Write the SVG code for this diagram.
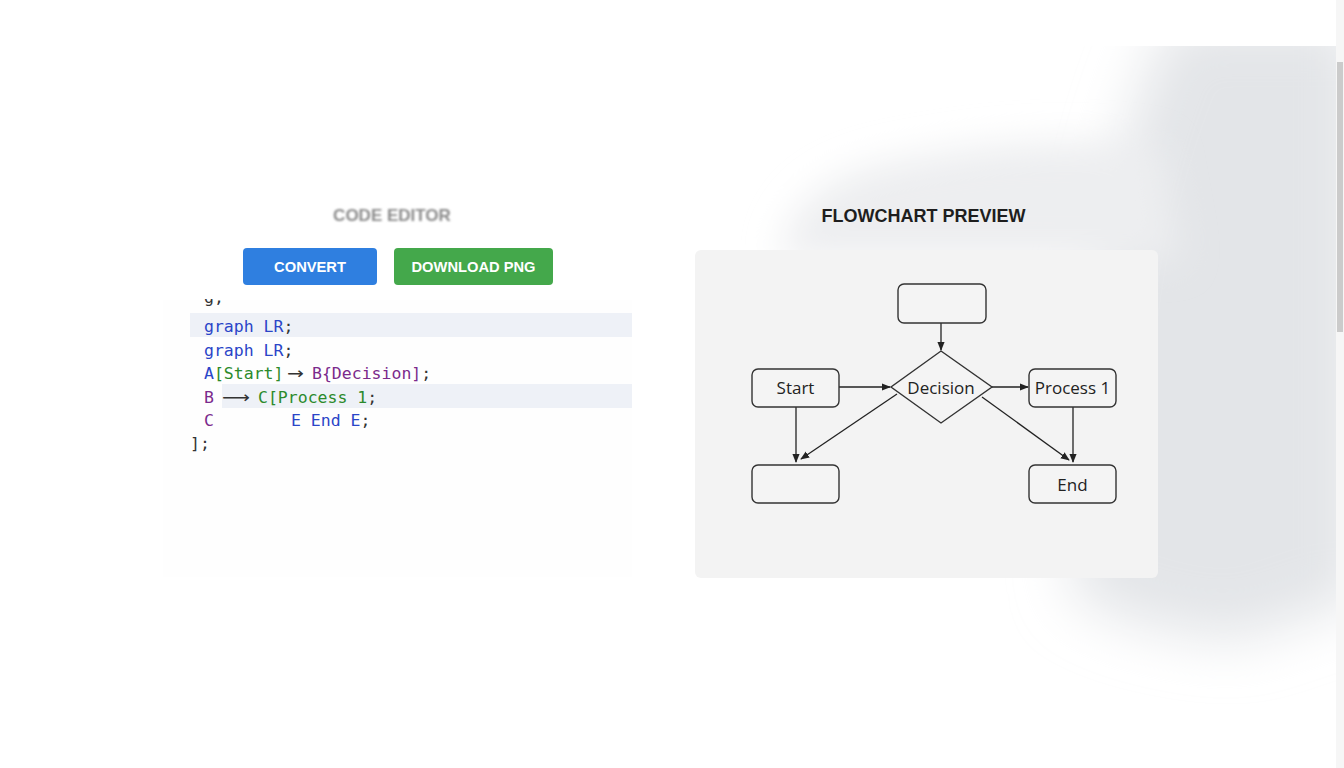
<svg xmlns="http://www.w3.org/2000/svg" width="1344" height="768" viewBox="0 0 1344 768">
<defs>
<filter id="blur40" x="-50%" y="-50%" width="200%" height="200%"><feGaussianBlur stdDeviation="28"/></filter>
<filter id="blur20" x="-50%" y="-50%" width="200%" height="200%"><feGaussianBlur stdDeviation="18"/></filter>
<filter id="soft" x="-10%" y="-10%" width="120%" height="120%"><feGaussianBlur stdDeviation="0.9"/></filter>
<clipPath id="topclip"><rect x="160" y="299" width="480" height="20"/></clipPath>
<clipPath id="pageclip"><rect x="0" y="46" width="1336" height="722"/></clipPath>
<marker id="arr" viewBox="0 0 10 10" refX="9" refY="5" markerWidth="9" markerHeight="9" markerUnits="userSpaceOnUse" orient="auto"><path d="M0,1 L10,5 L0,9 Z" fill="#222"/></marker>
</defs>
<style>
.code{font-family:"DejaVu Sans Mono","Liberation Mono",monospace;font-size:16.5px}
.bl{fill:#2a45c8}.gr{fill:#2b8a2b}.pu{fill:#7b2a8c}.dk{fill:#333}
.node{fill:#f4f4f4;stroke:#333;stroke-width:1.4}
.lbl{font-family:"Open Sans","Noto Sans",sans-serif;font-size:17px;fill:#222;text-anchor:middle}
.edge{stroke:#222;stroke-width:1.3;fill:none;marker-end:url(#arr)}
.btn{font-family:"Liberation Sans",Arial,sans-serif;font-size:14.7px;font-weight:bold;fill:#fff;text-anchor:middle}
</style>
<rect width="1344" height="768" fill="#ffffff"/>
<!-- soft gray background haze on the right -->
<g id="haze">
<g clip-path="url(#pageclip)">
<path d="M1170,20 L1360,20 L1360,600 L1240,640 Q1120,630 1070,590 L1090,320 Q1110,150 1170,20 Z" fill="#e3e5e8" filter="url(#blur40)"/>
<path d="M780,260 Q790,180 900,160 Q1050,130 1160,150 L1180,260 Z" fill="#edeef0" filter="url(#blur20)"/>
</g>
<rect x="1336" y="0" width="8" height="768" fill="#f6f6f6"/>
<rect x="1337" y="62" width="6" height="270" fill="#cbcbcb"/>
</g>
<!-- code editor side -->
<g id="code-title">
<text x="392" y="221" font-family="Liberation Sans,Arial,sans-serif" font-size="17" font-weight="bold" fill="#8a8a8a" text-anchor="middle" filter="url(#soft)">CODE EDITOR</text>
</g>
<g id="btn-convert">
<rect x="243" y="248" width="134" height="37" rx="4" fill="#2f7fe0"/>
<text class="btn" x="310" y="272">CONVERT</text>
</g>
<g id="btn-download">
<rect x="394" y="248" width="159" height="37" rx="4" fill="#44a84b"/>
<text class="btn" x="473.5" y="272">DOWNLOAD PNG</text>
</g>
<g id="code-panel">
<rect x="163" y="300" width="469" height="277" fill="#fefefe"/>
<rect x="190" y="313" width="442" height="24" fill="#eef1f7"/>
<rect x="222" y="384" width="410" height="24" fill="#eef1f7"/>
<text class="code dk" x="204" y="303" clip-path="url(#topclip)">g,</text>
<text class="code" x="204" y="332"><tspan class="bl">graph LR</tspan><tspan class="dk">;</tspan></text>
<text class="code" x="204" y="356"><tspan class="bl">graph LR</tspan><tspan class="dk">;</tspan></text>
<text class="code" x="204" y="379"><tspan class="bl">A</tspan><tspan class="gr">[Start]</tspan></text>
<text class="dk" x="287" y="379" font-family="DejaVu Sans,sans-serif" font-size="16" textLength="17" lengthAdjust="spacingAndGlyphs">→</text>
<text class="code" x="312" y="379"><tspan class="pu">B{Decision]</tspan><tspan class="dk">;</tspan></text>
<text class="code pu" x="204" y="403">B</text>
<text class="dk" x="222" y="403" font-family="DejaVu Sans,sans-serif" font-size="16" textLength="28" lengthAdjust="spacingAndGlyphs">⟶</text>
<text class="code" x="258" y="403"><tspan class="gr">C[Process 1</tspan><tspan class="dk">;</tspan></text>
<text class="code pu" x="204" y="426">C</text>
<text class="code" x="291" y="426"><tspan class="bl">E End E</tspan><tspan class="dk">;</tspan></text>
<text class="code dk" x="190" y="449">];</text>
</g>
<!-- flowchart preview side -->
<g id="preview-title">
<text x="923.5" y="222" font-family="Liberation Sans,Arial,sans-serif" font-size="18" font-weight="bold" fill="#1e1e1e" text-anchor="middle">FLOWCHART PREVIEW</text>
</g>
<g id="preview-panel">
<rect x="695" y="250" width="463" height="328" rx="6" fill="#f3f3f3"/>
</g>
<g id="connectors">
<line class="edge" x1="941" y1="323" x2="941" y2="350"/>
<line class="edge" x1="839" y1="387" x2="890" y2="387"/>
<line class="edge" x1="992" y1="387" x2="1028" y2="387"/>
<line class="edge" x1="796" y1="407" x2="796" y2="462"/>
<line class="edge" x1="897" y1="394" x2="801" y2="459"/>
<line class="edge" x1="982" y1="397" x2="1069" y2="460"/>
<line class="edge" x1="1073" y1="407" x2="1073" y2="462"/>
</g>
<g id="node-top"><rect class="node" x="898" y="284" width="88" height="39" rx="6"/></g>
<g id="node-start"><rect class="node" x="752" y="369" width="87" height="38" rx="6"/><text class="lbl" x="795.5" y="394">Start</text></g>
<g id="node-decision"><polygon class="node" points="941,351 992,387 941,423 891,387"/><text class="lbl" x="941" y="394">Decision</text></g>
<g id="node-process1"><rect class="node" x="1029" y="369" width="87" height="38" rx="6"/><text class="lbl" x="1072.5" y="394">Process 1</text></g>
<g id="node-bottomleft"><rect class="node" x="752" y="465" width="87" height="38" rx="6"/></g>
<g id="node-end"><rect class="node" x="1029" y="465" width="87" height="38" rx="6"/><text class="lbl" x="1072.5" y="491">End</text></g>
</svg>
